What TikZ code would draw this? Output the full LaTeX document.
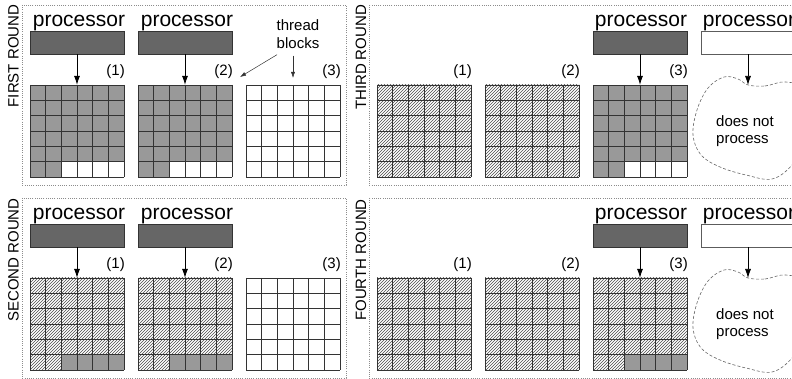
\documentclass[tikz,border=0pt]{standalone}
\usepackage{fontspec}
\setmainfont{Liberation Sans}
\usetikzlibrary{arrows.meta,patterns,calc}

\definecolor{busygray}{HTML}{999999}
\definecolor{procdark}{HTML}{666666}
\definecolor{hatchcol}{HTML}{4A4A4A}
\definecolor{gridcol}{HTML}{333333}
\definecolor{framecol}{HTML}{8C8C8C}

\tikzset{
  roundframe/.style={draw=framecol, line width=0.7pt, dash pattern=on 1pt off 1.2pt},
  roundlabel/.style={rotate=90, font=\fontsize{15}{18}\selectfont, inner sep=0pt},
  proclabel/.style={font=\fontsize{21}{24}\selectfont, inner sep=0pt, anchor=base},
  procbusy/.style={draw=gridcol, fill=procdark, line width=0.6pt, minimum width=94pt, minimum height=23pt, inner sep=0pt},
  procidle/.style={draw=gridcol!80, fill=white, line width=0.6pt, minimum width=94pt, minimum height=23pt, inner sep=0pt},
  blocklabel/.style={font=\fontsize{15}{18}\selectfont, inner sep=0pt, anchor=base east},
  gridarea/.style={minimum width=94pt, minimum height=92pt, inner sep=0pt, draw=none},
  gridline/.style={draw=gridcol, line width=0.7pt},
  cellbusy/.style={fill=busygray},
  cellidle/.style={fill=white},
  celldone/.style={pattern=north east lines, pattern color=hatchcol},
  feed/.style={draw=black, line width=0.7pt, -{Latex[length=9pt,width=6pt]}},
  pointer/.style={draw=black!80, line width=0.5pt, -{Latex[length=6pt,width=4pt]}},
  cloudline/.style={draw=black!60, line width=0.6pt, dash pattern=on 3pt off 2pt},
  note/.style={font=\fontsize{15}{17.5}\selectfont, inner sep=0pt, align=left}
}

% 6x6 grid of thread blocks: name, left x, top y,
% style of the first 32 cells, style of the last 4 cells
\newcommand\blockgrid[5]{%
  \node[gridarea] (#1) at ({#2+47},{#3+46}) {};
  \path[#4] (#2,#3) rectangle ({#2+94},{#3+76.667});
  \path[#4] (#2,{#3+76.667}) rectangle ({#2+31.333},{#3+92});
  \path[#5] ({#2+31.333},{#3+76.667}) rectangle ({#2+94},{#3+92});
  \foreach \k in {0,...,6} {
    \draw[gridline] ({#2+\k*94/6},#3) -- ({#2+\k*94/6},{#3+92});
    \draw[gridline] (#2,{#3+\k*92/6}) -- ({#2+94},{#3+\k*92/6});
  }%
}

% dashed outline of the region handled by an idle processor
\newcommand\idlecloud[1]{%
  \draw[cloudline, shift={(0,#1)}] plot[smooth cycle, tension=0.6] coordinates {
    (748,85) (765,86) (786,82) (806,92) (806,140) (792,165) (772,179)
    (746,175) (720,167) (701,155) (693,135) (697,110) (708,88) (724,77) (738,79)};%
}

\begin{document}
\begin{tikzpicture}[x=1pt, y=-1pt]
\useasboundingbox (0,0) rectangle (792,379);
\clip (0,0) rectangle (792,379);

% ---- frames and round names
\draw[roundframe] (22,5) rectangle (346,185);
\draw[roundframe] (369,5) rectangle (820,185);
\draw[roundframe] (22,198) rectangle (346,378);
\draw[roundframe] (369,198) rectangle (820,378);
\node[roundlabel] (r1) at (13.5,56) {FIRST ROUND};
\node[roundlabel] (r3) at (361,57.5) {THIRD ROUND};
\node[roundlabel] (r2) at (13.5,260) {SECOND ROUND};
\node[roundlabel] (r4) at (361,260) {FOURTH ROUND};

% ---- first round
\blockgrid{g1a}{30}{85}{cellbusy}{cellidle}
\blockgrid{g1b}{138}{85}{cellbusy}{cellidle}
\blockgrid{g1c}{246}{85}{cellidle}{cellidle}
\node[blocklabel] (l1a) at (125,76) {(1)};
\node[blocklabel] (l1b) at (233,76) {(2)};
\node[blocklabel] (l1c) at (341,76) {(3)};
\node[proclabel] (t1a) at (79,27) {processor};
\node[proclabel] (t1b) at (187,27) {processor};
\node[procbusy] (p1a) at (77,42.5) {};
\node[procbusy] (p1b) at (185,42.5) {};
\draw[feed] (p1a.south) -- (g1a.north);
\draw[feed] (p1b.south) -- (g1b.north);
\node[font=\fontsize{15}{18}\selectfont, align=center, inner sep=1pt] (tb) at (298,34) {thread\\blocks};
\coordinate (tbtip1) at (240,77);
\coordinate (tbtip2) at (293,78);
\draw[pointer] ($(tb.south)+(-21,5)$) -- (tbtip1);
\draw[pointer] ($(tb.south)+(-5,6)$) -- (tbtip2);

% ---- second round
\blockgrid{g2a}{30}{278}{celldone}{cellbusy}
\blockgrid{g2b}{138}{278}{celldone}{cellbusy}
\blockgrid{g2c}{246}{278}{cellidle}{cellidle}
\node[blocklabel] (l2a) at (125,269) {(1)};
\node[blocklabel] (l2b) at (233,269) {(2)};
\node[blocklabel] (l2c) at (341,269) {(3)};
\node[proclabel] (t2a) at (79,220) {processor};
\node[proclabel] (t2b) at (187,220) {processor};
\node[procbusy] (p2a) at (77,235.5) {};
\node[procbusy] (p2b) at (185,235.5) {};
\draw[feed] (p2a.south) -- (g2a.north);
\draw[feed] (p2b.south) -- (g2b.north);

% ---- third round
\blockgrid{g3a}{377}{85}{celldone}{celldone}
\blockgrid{g3b}{485}{85}{celldone}{celldone}
\blockgrid{g3c}{593}{85}{cellbusy}{cellidle}
\node[blocklabel] (l3a) at (472,76) {(1)};
\node[blocklabel] (l3b) at (580,76) {(2)};
\node[blocklabel] (l3c) at (688,76) {(3)};
\node[proclabel] (t3a) at (641,27) {processor};
\node[proclabel] (t3b) at (749,27) {processor};
\node[procbusy] (p3a) at (640,42.5) {};
\node[procidle] (p3b) at (748,42.5) {};
\draw[feed] (p3a.south) -- (g3c.north);
\idlecloud{0}
\coordinate (c3) at (748,85);
\draw[feed] (p3b.south) -- (c3);
\node[note, anchor=west] (n3) at (716,131) {does not\\process};

% ---- fourth round
\blockgrid{g4a}{377}{278}{celldone}{celldone}
\blockgrid{g4b}{485}{278}{celldone}{celldone}
\blockgrid{g4c}{593}{278}{celldone}{cellbusy}
\node[blocklabel] (l4a) at (472,269) {(1)};
\node[blocklabel] (l4b) at (580,269) {(2)};
\node[blocklabel] (l4c) at (688,269) {(3)};
\node[proclabel] (t4a) at (641,220) {processor};
\node[proclabel] (t4b) at (749,220) {processor};
\node[procbusy] (p4a) at (640,235.5) {};
\node[procidle] (p4b) at (748,235.5) {};
\draw[feed] (p4a.south) -- (g4c.north);
\idlecloud{193}
\coordinate (c4) at (748,278);
\draw[feed] (p4b.south) -- (c4);
\node[note, anchor=west] (n4) at (716,324) {does not\\process};
\end{tikzpicture}
\end{document}
